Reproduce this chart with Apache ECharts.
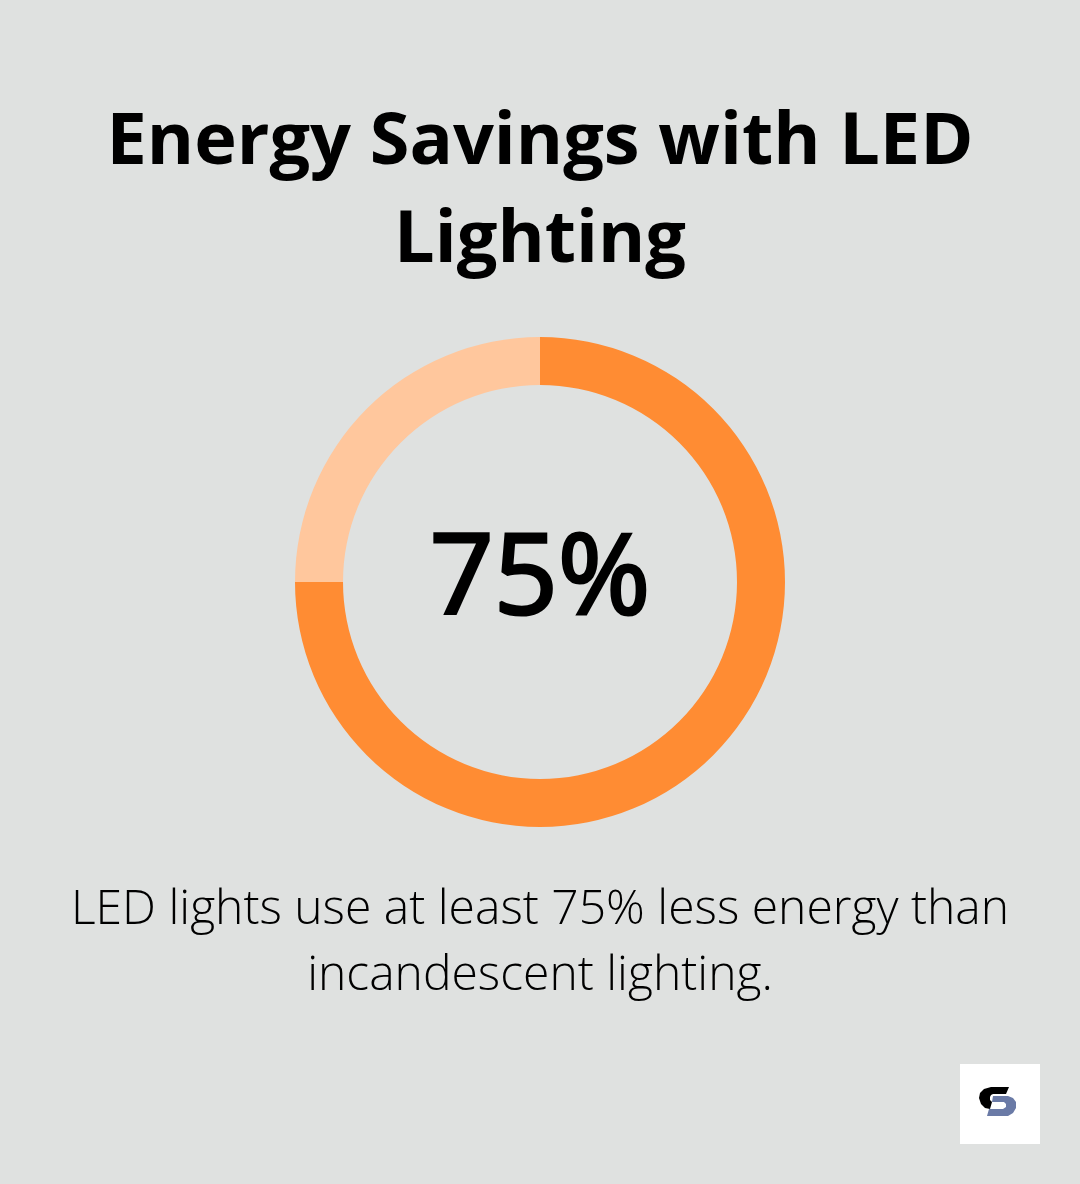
<!DOCTYPE html>
<html>
<head>
<meta charset="utf-8">
<script src="https://cdn.jsdelivr.net/npm/echarts@6/dist/echarts.min.js"></script>
<style>
  html, body { margin: 0; padding: 0; background: #dfe1e0; }
  #main { width: 1080px; height: 1184px; }
</style>
</head>
<body>
<div id="main"></div>
<script>
var categories = ['LED energy savings', 'Remaining'];
var values = [75, 25];
var colors = ['#ff8c33', '#ffc79d'];
var titleLines = ['Energy Savings with LED', 'Lighting'];
var centerLabel = '75%';
var captionLines = ['LED lights use at least 75% less energy than', 'incandescent lighting.'];

var chart = echarts.init(document.getElementById('main'));

var pieData = categories.map(function (name, i) {
  return { name: name, value: values[i], itemStyle: { color: colors[i] } };
});

// one text element per line, so each line centres on its own
function textLines(lines, firstY, lineHeight, font) {
  return lines.map(function (line, i) {
    return {
      type: 'text',
      style: { x: 540, y: firstY + i * lineHeight, text: line, fill: '#000', font: font, align: 'center', verticalAlign: 'middle' }
    };
  });
}

var logo = [
  { type: 'rect', shape: { x: 960, y: 1064, width: 80, height: 80 }, style: { fill: '#fff' } },
  { type: 'polygon', shape: { points: [[993, 1096], [1008, 1096], [1013, 1098], [1016, 1102], [1016, 1108], [1013, 1113], [1008, 1116], [987, 1116], [989, 1109], [1003, 1109], [1006, 1107], [1006, 1104], [1004, 1102], [992, 1102]] }, style: { fill: '#6a7aa6' } },
  { type: 'polygon', shape: { points: [[1009, 1087], [991, 1087], [984, 1089], [980, 1093], [979, 1098], [981, 1104], [985, 1108], [990, 1109], [992, 1102], [990, 1100], [990, 1097], [991, 1095], [993, 1094], [1006, 1094]] }, style: { fill: '#000' } }
];

chart.setOption({
  backgroundColor: '#dfe1e0',
  animation: false,
  graphic: textLines(titleLines, 143, 98, 'bold 72px "Open Sans"')
    .concat(textLines(captionLines, 910, 66, '300 48px "Open Sans"'))
    .concat(logo),
  series: [{
    type: 'pie',
    center: [540, 582],
    radius: [197, 245],
    startAngle: 90,
    silent: true,
    label: {
      show: true,
      position: 'center',
      formatter: centerLabel,
      color: '#000',
      fontFamily: 'Open Sans',
      fontWeight: 400,
      fontSize: 112,
      textBorderColor: '#000',
      textBorderWidth: 3
    },
    labelLine: { show: false },
    data: pieData
  }]
});
</script>
</body>
</html>
